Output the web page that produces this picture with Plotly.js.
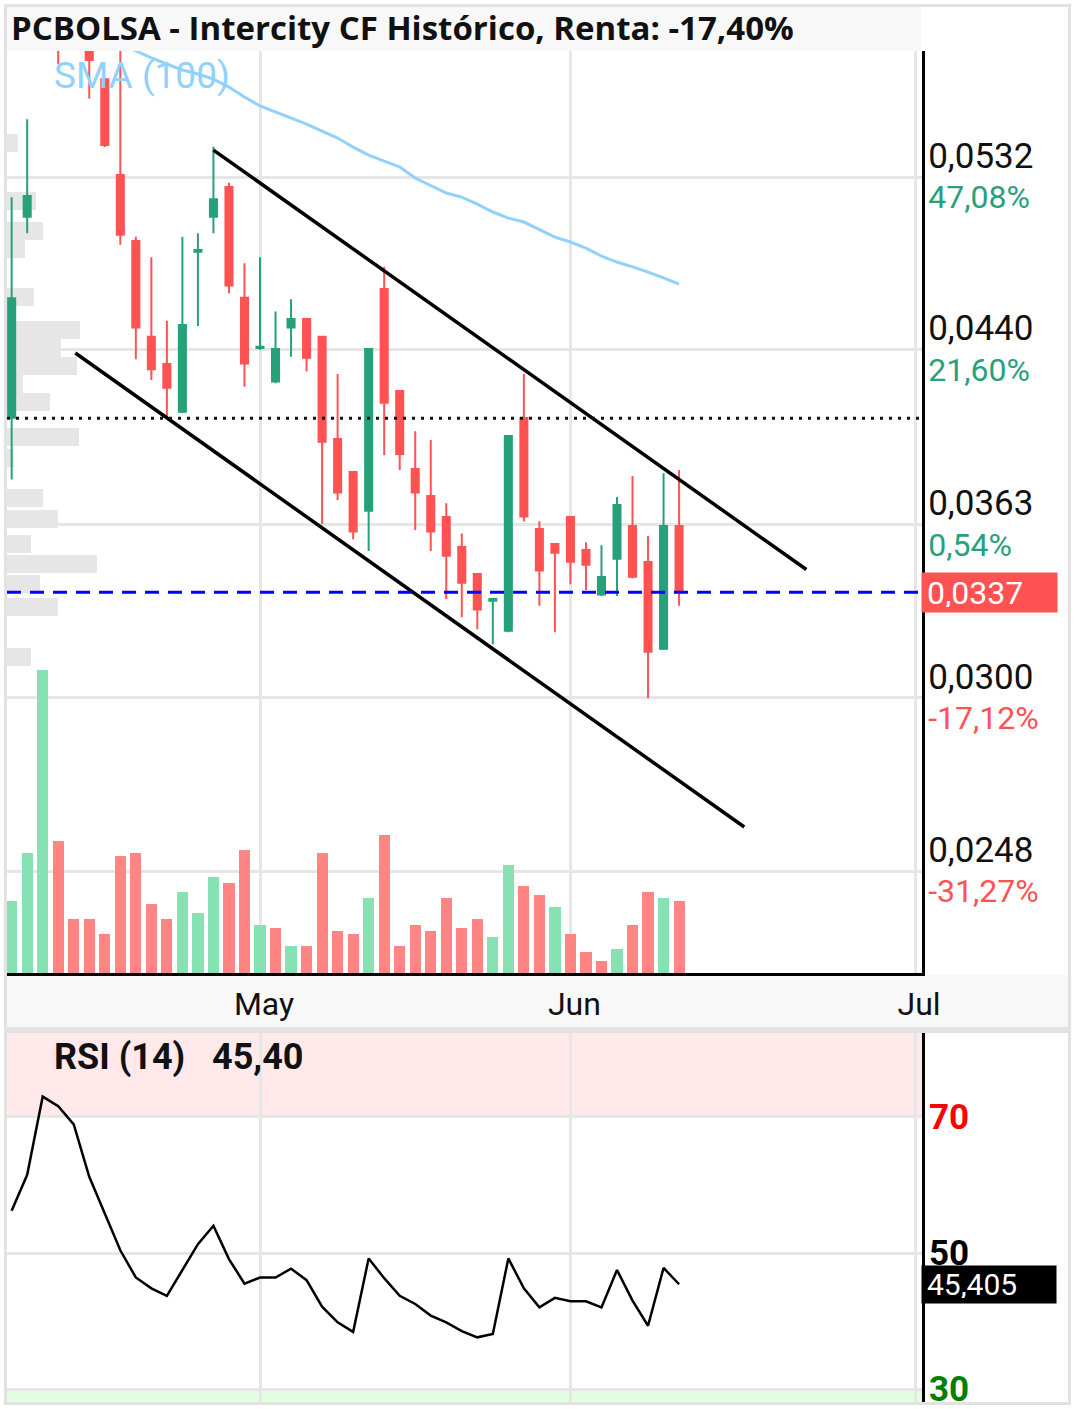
<!DOCTYPE html>
<html><head><meta charset="utf-8">
<script src="https://cdn.plot.ly/plotly-3.0.1.min.js"></script>
<style>html,body{margin:0;padding:0;background:#fff;}#chart{width:1076px;height:1409px;}</style>
</head><body><div id="chart"></div>
<script>
// ---------- DATA ----------
const opens  = [0.04083,0.05093,0.0630,0.0690,0.0650,0.0640,0.05924,0.05332,0.04958,0.04463,0.04331,0.04110,0.04900,0.05093,0.05262,0.04659,0.04408,0.04248,0.04508,0.04551,0.04463,0.03988,0.03846,0.03686,0.04703,0.04204,0.03859,0.03746,0.03660,0.03542,0.03438,0.03338,0.03230,0.04081,0.03612,0.03553,0.03660,0.03530,0.03361,0.03496,0.03624,0.03484,0.03167,0.03624];
const highs  = [0.05203,0.05669,0.0720,0.0700,0.0665,0.0645,0.05924,0.0630,0.04982,0.04870,0.04542,0.04982,0.05001,0.05500,0.05287,0.04838,0.04870,0.04588,0.04651,0.04551,0.04463,0.04284,0.03846,0.04403,0.04820,0.04204,0.04022,0.03984,0.03716,0.03595,0.03438,0.03345,0.04001,0.04284,0.03643,0.03553,0.03660,0.03560,0.03548,0.03742,0.03829,0.03585,0.03841,0.03855];
const lows   = [0.03815,0.05001,0.0625,0.0602,0.0625,0.0580,0.05498,0.04938,0.04354,0.04256,0.04087,0.04103,0.04516,0.05001,0.04681,0.04224,0.04398,0.04240,0.04366,0.04295,0.03632,0.03729,0.03572,0.03526,0.03919,0.03855,0.03608,0.03526,0.03345,0.03278,0.03235,0.03182,0.03225,0.03642,0.03320,0.03225,0.03399,0.03378,0.03356,0.03356,0.03422,0.02999,0.03162,0.03320];
const closes = [0.04656,0.05210,0.0700,0.0640,0.0632,0.0605,0.05510,0.04993,0.04509,0.04306,0.04220,0.04521,0.04910,0.05191,0.04721,0.04334,0.04414,0.04403,0.04551,0.04361,0.03976,0.03760,0.03602,0.04403,0.04151,0.03923,0.03760,0.03602,0.03508,0.03405,0.03306,0.03345,0.04001,0.03662,0.03451,0.03519,0.03485,0.03473,0.03427,0.03709,0.03428,0.03156,0.03624,0.0337];
const volumes = [72,120,303,132,54,54,39,117,120,69,54,81,60,96,90,123,48,45,27,27,120,42,39,75,138,27,48,42,75,45,54,36,108,87,78,66,39,21,12,24,48,81,75,72];
const rsi = [56.2,61.5,73.0,71.6,68.9,61.2,55.8,50.4,46.4,44.8,43.7,47.5,51.3,54.0,49.1,45.5,46.4,46.4,47.7,46.0,42.1,39.8,38.4,49.2,46.3,43.7,42.5,40.8,39.8,38.5,37.6,38.1,49.2,44.8,42.0,43.4,42.9,42.9,42.0,47.5,43.0,39.3,47.8,45.4048];
const smaStart = 7;
const sma100 = [0.06160,0.06111,0.06064,0.06024,0.05984,0.05958,0.05925,0.05873,0.05809,0.05752,0.05714,0.05677,0.05639,0.05596,0.05553,0.05498,0.05450,0.05414,0.05379,0.05314,0.05268,0.05227,0.05204,0.05164,0.05119,0.05085,0.05063,0.05019,0.04980,0.04953,0.04920,0.04877,0.04845,0.04819,0.04792,0.04761,0.04729];
const profilePrices  = [0.05520,0.05179,0.05013,0.04915,0.04662,0.04496,0.04408,0.04322,0.04239,0.04156,0.03995,0.03906,0.03738,0.03654,0.03555,0.03476,0.03400,0.03314,0.03138];
const profileVolumes = [11,29,36,18,27,73,54,70,16,43,72,7,36,51,24,90,33,51,24];
const trendUpperX = [13, 51.2], trendUpperY = [0.05480, 0.03455];
const trendLowerX = [4.1, 47.2], trendLowerY = [0.04384, 0.02603];
const refPrice = 0.0408;
const monthTicks = [16, 36, 58.2];
const monthLabels = ['May', 'Jun', 'Jul'];
const priceTicks = [0.0532, 0.0440, 0.0363, 0.0300, 0.0248];
const pctLabels = ['47,08%', '21,60%', '0,54%', '-17,12%', '-31,27%'];
const rsiTicks = [70, 50, 30];
const rsiTickColors = ['#ff0000', '#000000', '#008000'];

// ---------- LAYOUT HELPERS ----------
const W = 1076, H = 1409;
const PL = 7, PR = 922;
const py = p => (H - p) / H;
const px = p => (p - PL) / (PR - PL);
const GREEN = '#26a17b', RED = '#ff5252';
const idx = closes.map((_, i) => i);
const xRange = [-0.30, 58.65];
const logTop = -1.21391, logBot = -1.65426;
const last = closes.length - 1;
const fmt = (v, d) => v.toFixed(d).replace('.', ',');

const volColors = closes.map((c, i) => (i === 0 || c >= closes[i - 1]) ? '#86e2b3' : '#ff8585');
const priceTickText = priceTicks.map((v, i) =>
  '<span style="font-size:35px">' + fmt(v, 4) + '</span><br><span style="color:' +
  (pctLabels[i][0] === '-' ? RED : GREEN) + ';font-size:32px">' + pctLabels[i] + '</span>');
const renta = (closes[last] / refPrice - 1) * 100;

const traces = [
  {type: 'bar', orientation: 'h', x: profileVolumes, y: profilePrices.map(p => Math.log10(p)),
   width: 0.0086, xaxis: 'x', yaxis: 'y', marker: {color: '#e6e6e6'}, hoverinfo: 'skip'},
  {type: 'candlestick', x: idx, open: opens, high: highs, low: lows, close: closes,
   xaxis: 'x2', yaxis: 'y2', whiskerwidth: 0,
   increasing: {line: {color: GREEN, width: 2}, fillcolor: GREEN},
   decreasing: {line: {color: RED, width: 2}, fillcolor: RED}, hoverinfo: 'skip'},
  {type: 'scatter', mode: 'lines', x: sma100.map((_, i) => i + smaStart), y: sma100,
   xaxis: 'x2', yaxis: 'y2', line: {color: '#92d1fb', width: 3}, hoverinfo: 'skip'},
  {type: 'scatter', mode: 'lines', x: trendUpperX, y: trendUpperY, xaxis: 'x2', yaxis: 'y2',
   line: {color: '#000', width: 3.5}, hoverinfo: 'skip'},
  {type: 'scatter', mode: 'lines', x: trendLowerX, y: trendLowerY, xaxis: 'x2', yaxis: 'y2',
   line: {color: '#000', width: 3.5}, hoverinfo: 'skip'},
  {type: 'scatter', mode: 'lines', x: xRange, y: [refPrice, refPrice], xaxis: 'x2', yaxis: 'y2',
   line: {color: '#111', width: 3, dash: '3px,6px'}, hoverinfo: 'skip'},
  {type: 'scatter', mode: 'lines', x: xRange, y: [closes[last], closes[last]], xaxis: 'x2', yaxis: 'y2',
   line: {color: '#0000ff', width: 3, dash: '14px,9px'}, hoverinfo: 'skip'},
  {type: 'bar', x: idx, y: volumes, xaxis: 'x2', yaxis: 'y3', width: 0.72,
   marker: {color: volColors}, hoverinfo: 'skip'},
  {type: 'scatter', mode: 'lines', x: idx, y: rsi, xaxis: 'x3', yaxis: 'y4',
   line: {color: '#000', width: 2.5}, hoverinfo: 'skip'}
];

const mainDom = [py(973), py(51)];
const rsiDom = [py(1402), py(1033)];
const grid = {showgrid: true, gridcolor: '#e6e6e6', gridwidth: 3, zeroline: false};

const layout = {
  width: W, height: H, showlegend: false,
  margin: {l: PL, r: W - PR, t: 0, b: 0, autoexpand: false},
  paper_bgcolor: '#ffffff', plot_bgcolor: '#ffffff',
  boxgap: 0.35, bargap: 0,
  title: {text: 'PCBOLSA - Intercity CF Histórico, Renta: ' + fmt(renta, 2) + '%',
    font: {family: 'Open Sans', size: 33, weight: 700, color: '#111'},
    x: 11 / W, xref: 'container', xanchor: 'left', y: 1 - 28 / H, yref: 'container', yanchor: 'middle'},
  xaxis: {domain: [0, 1], anchor: 'y', range: [0, PR - PL], visible: false, fixedrange: true},
  yaxis: {domain: mainDom, anchor: 'x', range: [logBot, logTop], visible: false, fixedrange: true},
  xaxis2: Object.assign({overlaying: 'x', anchor: 'y2', range: xRange, tickmode: 'array',
    tickvals: monthTicks, ticktext: monthLabels, ticks: '', ticklabelstandoff: 1, ticklabelshift: 4,
    tickfont: {family: 'Roboto', size: 32, color: '#111'}, rangeslider: {visible: false},
    showline: true, linecolor: '#000', linewidth: 3}, grid),
  yaxis2: Object.assign({overlaying: 'y', anchor: 'x2', type: 'log', range: [logBot, logTop], side: 'right',
    tickmode: 'array', tickvals: priceTicks, ticktext: priceTickText, ticks: '', ticklabelstandoff: -3,
    ticklabeloverflow: 'allow',
    tickfont: {family: 'Roboto', size: 31, color: '#111'},
    showline: true, linecolor: '#000', linewidth: 3}, grid),
  yaxis3: {overlaying: 'y', anchor: 'x2', range: [0, 922], visible: false},
  xaxis3: Object.assign({domain: [0, 1], anchor: 'y4', range: xRange, tickmode: 'array',
    tickvals: monthTicks, showticklabels: false, ticks: '', showline: false}, grid),
  yaxis4: Object.assign({domain: rsiDom, anchor: 'x3', range: [28.09, 82.35], side: 'right',
    tickmode: 'array', tickvals: rsiTicks,
    ticktext: rsiTicks.map((t, i) => '<span style="color:' + rsiTickColors[i] + '"><b>' + t + '</b></span>'),
    ticks: '', ticklabelstandoff: -3, ticklabeloverflow: 'allow',
    tickfont: {family: 'Roboto', size: 35, color: '#000'},
    showline: true, linecolor: '#000', linewidth: 3}, grid),
  shapes: [
    {type: 'rect', xref: 'paper', yref: 'paper', x0: px(5), x1: px(921), y0: py(51), y1: py(6),
     fillcolor: '#f8f8f8', line: {width: 0}, layer: 'below'},
    {type: 'rect', xref: 'paper', yref: 'paper', x0: px(6), x1: px(1069), y0: py(1027), y1: py(975),
     fillcolor: '#f8f8f8', line: {width: 0}, layer: 'below'},
    {type: 'rect', xref: 'paper', yref: 'paper', x0: px(5), x1: px(1070), y0: py(1033), y1: py(1027),
     fillcolor: '#e2e2e2', line: {width: 0}, layer: 'below'},
    {type: 'rect', xref: 'x3 domain', yref: 'y4', x0: 0, x1: 1, y0: 70, y1: 100,
     fillcolor: '#ffe9ea', line: {width: 0}, layer: 'below'},
    {type: 'rect', xref: 'x3 domain', yref: 'y4', x0: 0, x1: 1, y0: 0, y1: 30,
     fillcolor: '#e2fde2', line: {width: 0}, layer: 'below'},
    {type: 'rect', xref: 'paper', yref: 'paper', x0: px(5.5), x1: px(1069.5), y0: py(1403.5), y1: py(5.5),
     fillcolor: 'rgba(0,0,0,0)', line: {color: '#e2e2e2', width: 3}, layer: 'above'}
  ],
  annotations: [
    {text: 'SMA (100)', xref: 'paper', yref: 'paper', x: px(54), y: py(75), xanchor: 'left', yanchor: 'middle',
     width: 210, align: 'left', borderpad: 0, borderwidth: 0,
     showarrow: false, font: {family: 'Roboto', size: 37, color: '#92d1fb'}},
    {text: fmt(closes[last], 4), xref: 'paper', yref: 'y2', x: px(921), y: Math.log10(closes[last]),
     xanchor: 'left', yanchor: 'middle', showarrow: false, bgcolor: RED, width: 125, height: 29, borderpad: 5,
     align: 'left', font: {family: 'Roboto', size: 32, color: '#fff'}},
    {text: '<b>RSI (14)</b>', xref: 'paper', yref: 'paper', x: px(54), y: py(1057), xanchor: 'left', yanchor: 'middle',
     width: 160, align: 'left', borderpad: 0, borderwidth: 0,
     showarrow: false, font: {family: 'Roboto', size: 36, color: '#111'}},
    {text: '<b>' + fmt(rsi[last], 2) + '</b>', xref: 'paper', yref: 'paper', x: px(212), y: py(1057), xanchor: 'left', yanchor: 'middle',
     width: 120, align: 'left', borderpad: 0, borderwidth: 0,
     showarrow: false, font: {family: 'Roboto', size: 36, color: '#111'}},
    {text: fmt(rsi[last], 3), xref: 'paper', yref: 'y4', x: px(921), y: rsi[last],
     xanchor: 'left', yanchor: 'middle', showarrow: false, bgcolor: '#000', width: 124, height: 27, borderpad: 5,
     align: 'left', font: {family: 'Roboto', size: 30, color: '#fff'}}
  ]
};

Plotly.newPlot('chart', traces, layout, {displayModeBar: false, staticPlot: true});
</script>
</body></html>
